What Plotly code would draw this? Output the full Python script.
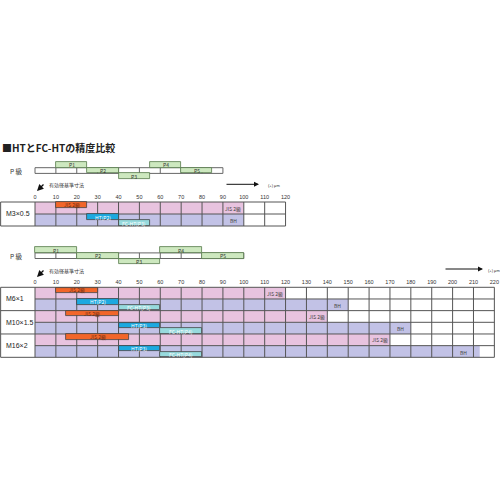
import plotly.graph_objects as go

# ---------------- data ----------------
TITLE = "■HTとFC-HTの精度比較"

# P grade diagram (top section, M3x0.5)
TOP_P_LABELS = ["P1", "P2", "P3", "P4", "P5"]
TOP_P_START = [10, 25, 40, 55, 70]
TOP_P_END = [25, 40, 55, 70, 85]
TOP_RULER_END = 90

# P grade diagram (bottom section)
BOT_P_LABELS = ["P1", "P2", "P3", "P4", "P5"]
BOT_P_START = [0, 20, 40, 60, 80]
BOT_P_END = [20, 40, 60, 80, 100]
BOT_RULER_END = 100

TOP_TICKS = [0, 10, 20, 30, 40, 50, 60, 70, 80, 90, 100, 110, 120]
BOT_TICKS = [0, 10, 20, 30, 40, 50, 60, 70, 80, 90, 100, 110, 120, 130, 140, 150,
             160, 170, 180, 190, 200, 210, 220]

# thread sizes: top table
TOP_THREADS = ["M3×0.5"]
TOP_JIS_START = [10]
TOP_JIS_END = [25]
TOP_JIS_RANGE = [100]
TOP_BH_RANGE = [100]
TOP_HT_START = [25]
TOP_HT_END = [40]
TOP_HT_LABEL = ["HT(P2)"]
TOP_FC_START = [40]
TOP_FC_END = [55]
TOP_FC_LABEL = ["FC-HT(P3)"]

# thread sizes: bottom table
BOT_THREADS = ["M6×1", "M10×1.5", "M16×2"]
BOT_JIS_START = [10, 15, 15]
BOT_JIS_END = [30, 40, 45]
BOT_JIS_RANGE = [120, 140, 170]
BOT_BH_RANGE = [150, 180, 213]
BOT_HT_START = [20, 40, 40]
BOT_HT_END = [40, 60, 60]
BOT_HT_LABEL = ["HT(P2)", "HT(P3)", "HT(P3)"]
BOT_FC_START = [40, 60, 60]
BOT_FC_END = [60, 80, 80]
BOT_FC_LABEL = ["FC-HT(P3)", "FC-HT(P4)", "FC-HT(P4)"]

JIS_TEXT = "JIS 2級"
BH_TEXT = "BH"
P_GRADE_TEXT = "P 級"
REF_TEXT = "有効径基準寸法"
UNIT_TEXT = "(+) μm"

# ---------------- style / layout ----------------
W = H = 500
SCALE = 2.088          # px per µm
X0_PX = 35             # pixel of 0 µm
X_MIN = -X0_PX / SCALE
X_MAX = (W - X0_PX) / SCALE

PINK = "#e8c3df"
LAVENDER = "#c2c2e6"
ORANGE = "#f2662a"
BLUE = "#1ca9e0"
CYAN = "#97dadd"
GREEN = "#cde8bf"
GREEN_LINE = "#55784a"
GRID = "#555555"
BAR_LINE = "#444444"
JP = "Noto Sans CJK JP"
LAT = "Liberation Sans, Arial"

fig = go.Figure()
shapes = []
annotations = []


def ann(**kw):
    kw.setdefault("xanchor", "center")
    kw.setdefault("yanchor", "middle")
    kw.setdefault("showarrow", False)
    annotations.append(kw)


def hline(y, x0, x1, color=GRID, width=1):
    shapes.append(dict(type="line", xref="x", yref="y", x0=x0, x1=x1, y0=y, y1=y,
                       line=dict(color=color, width=width), layer="below"))


def vline(x, y0, y1, color=GRID, width=1):
    shapes.append(dict(type="line", xref="x", yref="y", x0=x, x1=x, y0=y0, y1=y1,
                       line=dict(color=color, width=width), layer="below"))


def rect(x0, x1, y0, y1, color):
    shapes.append(dict(type="rect", xref="x", yref="y", x0=x0, x1=x1, y0=y0, y1=y1,
                       fillcolor=color, line=dict(width=0), layer="below"))


def bars(starts, ends, ycs, h, color, texts, tcolor, line=BAR_LINE, tsize=5):
    fig.add_trace(go.Bar(
        orientation="h", base=starts, x=[e - s for s, e in zip(starts, ends)],
        y=ycs, width=[h] * len(starts),
        marker=dict(color=color, line=dict(color=line, width=0.8)),
        hoverinfo="skip", showlegend=False))
    for s, e, yc, t in zip(starts, ends, ycs, texts):
        ann(x=(s + e) / 2, y=yc, xref="x", yref="y", text=t,
            font=dict(size=tsize, color=tcolor, family=JP))


def p_diagram(y_top, rh, labels, starts, ends, ruler_end):
    y1 = y_top + rh
    y2 = y_top + 2 * rh
    hline(y1, 0, ruler_end, color="#666666")
    hline(y2, 0, ruler_end, color="#666666")
    for v in range(0, ruler_end + 1, 10):
        vline(v, y1, y2, color="#666666")
    levels = [0, 1, 2, 0, 1]
    ycs = [y_top + rh * (lv + 0.5) for lv in levels]
    bars(starts, ends, ycs, rh, GREEN, labels, "#333333", line=GREEN_LINE, tsize=5)
    ann(x=16 / W, y=1 - (y_top + 1.6 * rh) / H, xref="paper", yref="paper",
        text=P_GRADE_TEXT, font=dict(size=6.5, color="#333333", family=JP))


def table(y0, rh, threads, js, je, jr, br, hs, he, hl, fs, fe, fl, xmax):
    n = len(threads)
    # region fills
    for i in range(n):
        top = y0 + 2 * i * rh
        rect(0, jr[i], top, top + rh, PINK)
        rect(0, br[i], top + rh, top + 2 * rh, LAVENDER)
    # grid
    for v in range(0, xmax + 1, 10):
        vline(v, y0, y0 + 2 * n * rh)
    for i in range(n + 1):
        hline(y0 + 2 * i * rh, X_MIN + 0.3, xmax)
    for i in range(n):
        hline(y0 + (2 * i + 1) * rh, 0, xmax)
    vline(X_MIN + 0.3, y0, y0 + 2 * n * rh)
    # bars
    bh = rh * 0.46
    jy = [y0 + 2 * i * rh + rh * 0.26 for i in range(n)]
    hy = [y0 + (2 * i + 1) * rh + rh * 0.25 for i in range(n)]
    fy = [y0 + (2 * i + 1) * rh + rh * 0.75 for i in range(n)]
    bars(js, je, jy, bh, ORANGE, [JIS_TEXT] * n, "#6b2a10")
    bars(hs, he, hy, bh, BLUE, hl, "#ffffff")
    bars(fs, fe, fy, bh, CYAN, fl, "#ffffff")
    # region labels + thread names
    for i in range(n):
        top = y0 + 2 * i * rh
        ann(x=((jr[i] - 5) // 10) * 10 + 5, y=top + rh * 0.55, xref="x", yref="y",
            text=JIS_TEXT, font=dict(size=5, color="#444444", family=JP))
        ann(x=((br[i] - 5) // 10) * 10 + 5, y=top + rh * 1.55, xref="x", yref="y",
            text=BH_TEXT, font=dict(size=5, color="#444444", family=JP))
        ann(x=4 / W, y=1 - (top + rh) / H, xref="paper", yref="paper",
            xanchor="left", text=threads[i],
            font=dict(size=7, color="#222222", family=LAT))


def arrows(y_ref_tip, y_right, x_right0, x_right1, x_unit):
    # reference diameter arrow (diagonal)
    ann(x=37 / W, y=1 - y_ref_tip / H, xref="paper", yref="paper",
        ax=8, ay=-8, text="", showarrow=True, arrowhead=2,
        arrowsize=1, arrowwidth=1.3, arrowcolor="#111111")
    ann(x=47 / W, y=1 - (y_ref_tip - 6.5) / H, xref="paper", yref="paper",
        xanchor="left", text=REF_TEXT, font=dict(size=5, color="#333333", family=JP))
    # (+) direction arrow
    ann(x=x_right1 / W, y=1 - y_right / H, xref="paper", yref="paper",
        ax=-(x_right1 - x_right0), ay=0, text="", showarrow=True,
        arrowhead=2, arrowsize=1, arrowwidth=1, arrowcolor="#111111")
    ann(x=x_unit / W, y=1 - (y_right + 1.5) / H, xref="paper", yref="paper",
        xanchor="left", text=UNIT_TEXT, font=dict(size=4, color="#333333", family=LAT))


# ---------------- build top section ----------------
p_diagram(162.0, 5.7, TOP_P_LABELS, TOP_P_START, TOP_P_END, TOP_RULER_END)
arrows(191, 184.3, 225, 259, 266)
table(202.0, 12.0, TOP_THREADS, TOP_JIS_START, TOP_JIS_END, TOP_JIS_RANGE, TOP_BH_RANGE,
      TOP_HT_START, TOP_HT_END, TOP_HT_LABEL, TOP_FC_START, TOP_FC_END, TOP_FC_LABEL,
      TOP_TICKS[-1])

# ---------------- build bottom section ----------------
p_diagram(247.3, 5.6, BOT_P_LABELS, BOT_P_START, BOT_P_END, BOT_RULER_END)
arrows(277, 269, 444, 483, 486)
table(287.3, 11.67, BOT_THREADS, BOT_JIS_START, BOT_JIS_END, BOT_JIS_RANGE, BOT_BH_RANGE,
      BOT_HT_START, BOT_HT_END, BOT_HT_LABEL, BOT_FC_START, BOT_FC_END, BOT_FC_LABEL,
      BOT_TICKS[-1])

# invisible trace so the second x axis is drawn
fig.add_trace(go.Scatter(x=[0], y=[0], xaxis="x2", mode="markers",
                         marker=dict(opacity=0), hoverinfo="skip", showlegend=False))

# title
ann(x=0, y=1 - 147 / H, xref="paper", yref="paper", xanchor="left",
    text="<b>" + TITLE + "</b>", font=dict(size=10, color="#222222", family=JP))

tickfont = dict(size=5.5, color="#333333", family=LAT)
fig.update_layout(
    width=W, height=H, autosize=False,
    margin=dict(l=0, r=0, t=0, b=0),
    paper_bgcolor="white", plot_bgcolor="white",
    barmode="overlay", bargap=0,
    xaxis=dict(range=[X_MIN, X_MAX], anchor="free", position=1 - 202.0 / H, side="top",
               tickvals=TOP_TICKS, ticktext=[str(v) for v in TOP_TICKS], ticks="",
               showgrid=False, zeroline=False, showline=False, tickfont=tickfont,
               ticklabelstandoff=2),
    xaxis2=dict(range=[X_MIN, X_MAX], overlaying="x", anchor="free", position=1 - 287.3 / H,
                side="top", tickvals=BOT_TICKS, ticktext=[str(v) for v in BOT_TICKS], ticks="",
                showgrid=False, zeroline=False, showline=False, tickfont=tickfont,
                ticklabelstandoff=2),
    yaxis=dict(range=[H, 0], visible=False, showgrid=False, zeroline=False),
    shapes=shapes,
    annotations=annotations,
)

fig.write_html("out.html", config={"displayModeBar": False},
               post_script="document.body.style.margin='0';document.body.style.padding='0';"
                           "window.dispatchEvent(new Event('resize'));")
